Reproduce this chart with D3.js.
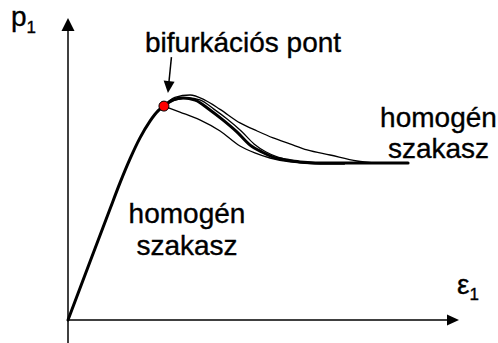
<!DOCTYPE html>
<html>
<head>
<meta charset="utf-8">
<script src="https://cdn.jsdelivr.net/npm/d3@7/dist/d3.min.js"></script>
<style>
  html, body { margin: 0; padding: 0; background: #fff; }
  svg { display: block; }
  text { font-family: "Liberation Sans", Arial, Helvetica, sans-serif; fill: #000; stroke: #000; stroke-width: 0.35; }
</style>
</head>
<body>
<div id="chart"></div>
<script>
// Loading branch shared by every path: origin up to the bifurcation point
const preEps = [0, 5.64, 10.77, 13.33, 15.9, 18.46, 21.03, 23.08, 24.6];
const preP   = [0, 19.4, 37, 45.7, 53.7, 60.7, 66.3, 69.7, 71.3];

// Main (thick) post-bifurcation branch, down to the homogeneous plateau
const mainEps = [24.6, 26.7, 29.5, 32.6, 36.4, 39.7, 43.3, 46.7, 49.7, 52.6, 56.2, 59.5, 67.2, 77.4, 87.2];
const mainP   = [71.3, 73.3, 74, 73.3, 70, 66.7, 62.7, 58.3, 56, 54.3, 53.3, 52.7, 52.3, 52.3, 52.3];

// Alternative (thin) post-bifurcation branches
const upperEps = [24.6, 27.4, 31.3, 35.1, 39, 44.1, 48.5, 52.6, 56.9, 61.3, 67.2, 74.1, 78.7];
const upperP   = [71.3, 74.2, 75, 73.3, 70.2, 65.7, 63, 60.7, 58.7, 56.7, 55, 53, 52.3];

const nearEps = [24.6, 27.7, 30.8, 33.8, 37.4, 40.8, 44.4, 47.7, 50.8, 53.8, 57.4, 62.1, 69.7];
const nearP   = [71.3, 73.4, 74, 73.4, 70.3, 67, 63, 58.7, 56, 54.3, 53.2, 52.5, 52.3];

const lowerEps = [24.6, 28.7, 33.8, 39, 44.1, 47.9, 51.8, 56.9, 64.6, 71];
const lowerP   = [71.3, 69.3, 66.7, 63, 58, 55.7, 54, 52.7, 52, 52];

// Bifurcation point
const bifEps = 24.6;
const bifP = 71.3;

// Labels
const bifLabel = "bifurkációs pont";
const regionLabel = ["homogén", "szakasz"];
const yLabel = "p";
const xLabel = "ε";
const axisIndex = "1";

const W = 498, H = 343;

const x = d3.scaleLinear().domain([0, 100]).range([68, 458]);
const y = d3.scaleLinear().domain([0, 100]).range([320, 20]);

const svg = d3.select("#chart").append("svg")
  .attr("width", W).attr("height", H);

const zip = (a, b) => a.map((v, i) => [v, b[i]]);

const line = d3.line()
  .x(d => x(d[0]))
  .y(d => y(d[1]))
  .curve(d3.curveMonotoneX);

// Axes with arrowheads
const x0 = x(0), y0 = y(0);
const yTip = y.range()[1] - 2;
const xTip = x.range()[1] + 1;

svg.append("line")
  .attr("x1", x0).attr("y1", H).attr("x2", x0).attr("y2", yTip + 10)
  .attr("stroke", "#000").attr("stroke-width", 1.5);
svg.append("path")
  .attr("d", `M${x0},${yTip} L${x0 - 6.5},${yTip + 13} L${x0 + 6.5},${yTip + 13} Z`)
  .attr("fill", "#000");

svg.append("line")
  .attr("x1", x0).attr("y1", y0).attr("x2", xTip - 10).attr("y2", y0)
  .attr("stroke", "#000").attr("stroke-width", 1.5);
svg.append("path")
  .attr("d", `M${xTip},${y0} L${xTip - 12},${y0 - 5.5} L${xTip - 12},${y0 + 5.5} Z`)
  .attr("fill", "#000");

// Thin alternative branches
[[upperEps, upperP], [nearEps, nearP], [lowerEps, lowerP]].forEach(([e, p]) => {
  svg.append("path")
    .attr("d", line(zip(e, p)))
    .attr("fill", "none")
    .attr("stroke", "#000")
    .attr("stroke-width", 1.3);
});

// Main curve: loading branch + thick post-bifurcation branch
const mainPts = zip(preEps, preP).concat(zip(mainEps, mainP).slice(1));
svg.append("path")
  .attr("d", line(mainPts))
  .attr("fill", "none")
  .attr("stroke", "#000")
  .attr("stroke-width", 3)
  .attr("stroke-linejoin", "round")
  .attr("stroke-linecap", "round");

// Bifurcation marker
const bx = x(bifEps), by = y(bifP);
svg.append("circle")
  .attr("cx", bx).attr("cy", by).attr("r", 5)
  .attr("fill", "#ff0000")
  .attr("stroke", "#000").attr("stroke-width", 1);

// Annotation arrow pointing at the bifurcation point
const aTipX = bx + 4, aTipY = by - 13;
const aStartX = bx + 7.5, aStartY = by - 49;
svg.append("line")
  .attr("x1", aStartX).attr("y1", aStartY)
  .attr("x2", aTipX + 0.9).attr("y2", aTipY - 10)
  .attr("stroke", "#000").attr("stroke-width", 1.5);
{
  const ang = Math.atan2(aTipY - aStartY, aTipX - aStartX);
  const len = 12, half = 5.5;
  const bxp = aTipX - len * Math.cos(ang), byp = aTipY - len * Math.sin(ang);
  const nx = -Math.sin(ang), ny = Math.cos(ang);
  svg.append("path")
    .attr("d", `M${aTipX},${aTipY} L${bxp + nx * half},${byp + ny * half} L${bxp - nx * half},${byp - ny * half} Z`)
    .attr("fill", "#000");
}

svg.append("text")
  .attr("x", 145).attr("y", 52)
  .attr("font-size", 28)
  .text(bifLabel);

// Region labels
function twoLine(cx, baseline) {
  const t = svg.append("text")
    .attr("text-anchor", "middle")
    .attr("font-size", 28);
  regionLabel.forEach((s, i) => {
    t.append("tspan").attr("x", cx).attr("y", baseline + i * 31.5).text(s);
  });
}
twoLine(187, 223);
twoLine(438.5, 126.5);

// Axis titles
const yt = svg.append("text").attr("x", 11).attr("y", 26).attr("font-size", 28);
yt.append("tspan").text(yLabel);
yt.append("tspan").attr("font-size", 17).attr("dy", 7).text(axisIndex);

const xt = svg.append("text").attr("x", 457).attr("y", 294).attr("font-size", 28);
xt.append("tspan").text(xLabel);
xt.append("tspan").attr("font-size", 17).attr("dy", 6).text(axisIndex);
</script>
</body>
</html>
